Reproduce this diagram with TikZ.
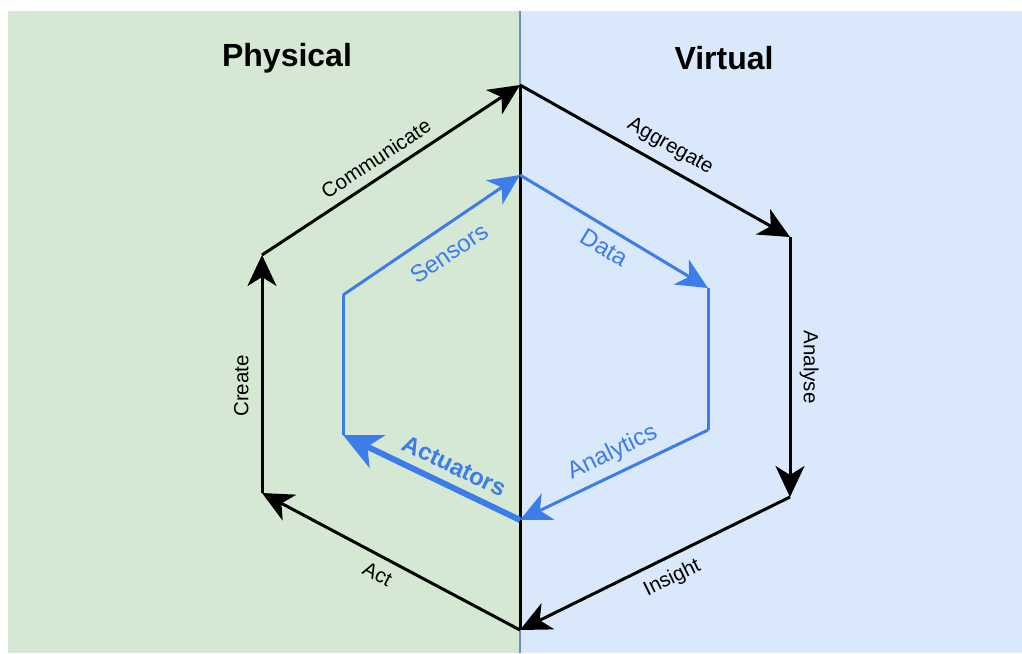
\documentclass[tikz,border=0pt]{standalone}
\usepackage{fontspec}
\setmainfont{Liberation Sans}
\usetikzlibrary{arrows.meta}
\definecolor{physbg}{HTML}{D5E8D4}
\definecolor{virtbg}{HTML}{DAE8FC}
\definecolor{divider}{HTML}{6C8EBF}
\definecolor{flow}{RGB}{60,125,235}
\begin{document}
\begin{tikzpicture}[x=1pt,y=-1pt,
  outerarrow/.style={line width=3pt, draw=black, -{Stealth[length=31pt,width=29pt,inset=9pt]}},
  innerarrow/.style={line width=3pt, draw=flow, -{Stealth[length=31pt,width=29pt,inset=9pt]}},
  boldarrow/.style={line width=6pt, draw=flow, -{Stealth[length=38pt,width=36pt,inset=11pt]}},
  innerline/.style={line width=3pt, draw=flow},
  outerlbl/.style={sloped, inner sep=0pt, font=\fontsize{20.5}{24}\selectfont, text=black},
  innerlbl/.style={sloped, inner sep=0pt, font=\fontsize{24}{28}\selectfont, text=flow},
  title/.style={font=\fontsize{32}{36}\selectfont\bfseries, text=black}
]
% canvas and the two halves
\useasboundingbox (0,0) rectangle (1022,653);
\fill[white] (0,0) rectangle (1022,653);
\fill[physbg] (8,11) rectangle (520,653);
\fill[virtbg] (520,11) rectangle (1022,653);
\draw[divider, line width=2pt] (520,11) -- (520,653);

% headings
\node[title] (phys) at (287,58) {Physical};
\node[title] (virt) at (724,58) {Virtual};

% outer cycle corners
\coordinate (oT) at (520,85);
\coordinate (oUR) at (790,237);
\coordinate (oLR) at (790,497);
\coordinate (oB) at (520,630);
\coordinate (oLL) at (262,493);
\coordinate (oUL) at (262,255);

% inner cycle corners
\coordinate (iT) at (520,175);
\coordinate (iUR) at (708,288);
\coordinate (iLR) at (708,430);
\coordinate (iB) at (520,520);
\coordinate (iLL) at (343,435);
\coordinate (iUL) at (343,295);

% central spine
\draw[line width=3pt] (oT) -- (oB);

% outer cycle
\draw[outerarrow] (oUL) -- node[outerlbl, pos=0.48, above=9pt] (lcomm) {Communicate} (oT);
\draw[outerarrow] (oT) -- node[outerlbl, pos=0.52, above=9pt] (lagg) {Aggregate} (oUR);
\draw[outerarrow] (oUR) -- node[outerlbl, pos=0.5, above=8pt] (lana) {Analyse} (oLR);
\draw[outerarrow] (oLR) -- node[outerlbl, pos=0.47, below=10pt] (lins) {Insight} (oB);
\draw[outerarrow] (oB) -- node[outerlbl, pos=0.52, below=9pt] (lact) {Act} (oLL);
\draw[outerarrow] (oLL) -- node[outerlbl, pos=0.45, above=12pt] (lcre) {Create} (oUL);

% inner cycle
\draw[innerarrow] (iUL) -- node[innerlbl, pos=0.52, below=15pt] (lsen) {Sensors} (iT);
\draw[innerarrow] (iT) -- node[innerlbl, pos=0.5, below=9pt] (ldat) {Data} (iUR);
\draw[innerline] (iUR) -- (iLR);
\draw[innerarrow] (iLR) -- node[innerlbl, pos=0.46, above=8pt] (lanl) {Analytics} (iB);
\draw[boldarrow] (iB) -- node[innerlbl, pos=0.42, above=9pt, font=\fontsize{24}{28}\selectfont\bfseries] (lact2) {Actuators} (iLL);
\draw[innerline] (iLL) -- (iUL);
\end{tikzpicture}
\end{document}
